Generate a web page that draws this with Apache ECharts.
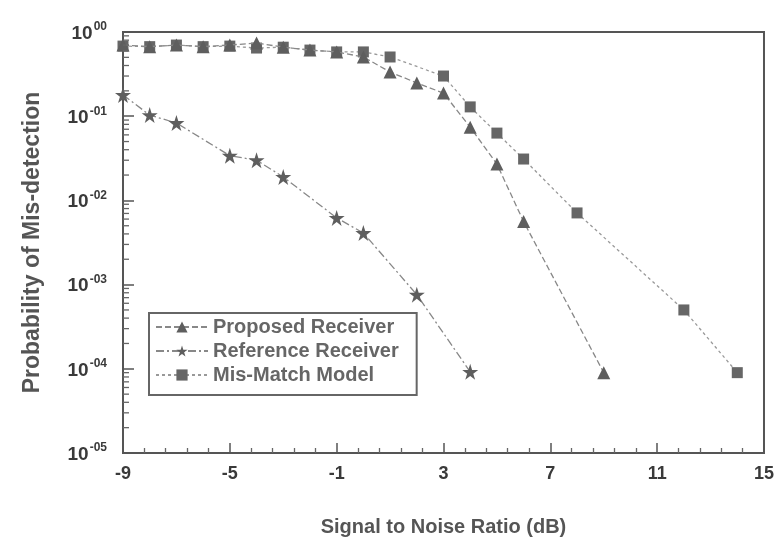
<!DOCTYPE html>
<html>
<head>
<meta charset="utf-8">
<script src="https://cdn.jsdelivr.net/npm/echarts@6/dist/echarts.min.js"></script>
<style>
html,body{margin:0;padding:0;background:#fff;}
#chart{width:777px;height:551px;}
</style>
</head>
<body>
<div id="chart"></div>
<script>
// ---- data ----
var seriesNames = ['Proposed Receiver', 'Reference Receiver', 'Mis-Match Model'];

var proposedX = [-9, -8, -7, -6, -5, -4, -3, -2, -1, 0, 1, 2, 3, 4, 5, 6, 9];
var proposedY = [0.70, 0.67, 0.70, 0.67, 0.70, 0.74, 0.66, 0.61, 0.58, 0.505, 0.335, 0.248, 0.188, 0.074, 0.027, 0.0056, 0.00009];

var referenceX = [-9, -8, -7, -5, -4, -3, -1, 0, 2, 4];
var referenceY = [0.179, 0.103, 0.083, 0.034, 0.030, 0.019, 0.0062, 0.0041, 0.00076, 0.000092];

var mismatchX = [-9, -8, -7, -6, -5, -4, -3, -2, -1, 0, 1, 3, 4, 5, 6, 8, 12, 14];
var mismatchY = [0.68, 0.67, 0.70, 0.67, 0.68, 0.645, 0.66, 0.61, 0.58, 0.58, 0.505, 0.30, 0.129, 0.063, 0.031, 0.0071, 0.00050, 0.00009];

var xTickLabels = ['-9', '-5', '-1', '3', '7', '11', '15'];
var yTickLabels = ['00', '-01', '-02', '-03', '-04', '-05'];
var yDecades = [1, 0.1, 0.01, 0.001, 0.0001, 0.00001];

// ---- build ----
function pairs(xs, ys) { return xs.map(function (x, i) { return [x, ys[i]]; }); }

var minorVals = [];
for (var k = 1; k < yDecades.length; k++) {
  for (var d = 2; d <= 9; d++) minorVals.push([-9, d * yDecades[k]]);
}

var FONT = '"Liberation Sans", Arial, sans-serif';
var starPath = 'path://M50,0 L61.8,36.2 L100,36.2 L69.1,58.8 L80.9,95.1 L50,72.7 L19.1,95.1 L30.9,58.8 L0,36.2 L38.2,36.2 Z';

var chart = echarts.init(document.getElementById('chart'), null, {renderer: 'canvas'});

var option = {
  backgroundColor: '#ffffff',
  animation: false,
  textStyle: {fontFamily: FONT},
  grid: {left: 123, right: 12, top: 32, bottom: 98, show: true, borderColor: '#555', borderWidth: 2, containLabel: false},
  legend: {
    data: seriesNames,
    orient: 'vertical',
    left: 149, top: 313,
    padding: [4, 18, 10, 6],
    itemWidth: 52, itemHeight: 14, itemGap: 4,
    borderColor: '#666', borderWidth: 2,
    backgroundColor: '#fff',
    textStyle: {fontFamily: FONT, fontSize: 20, fontWeight: 'bold', color: '#666', lineHeight: 20}
  },
  xAxis: {
    type: 'value', min: -9, max: 15, interval: 4,
    name: 'Signal to Noise Ratio (dB)', nameLocation: 'middle', nameGap: 64,
    nameTextStyle: {fontFamily: FONT, fontSize: 20, fontWeight: 'bold', color: '#555'},
    axisLine: {show: true, onZero: false, lineStyle: {color: '#555', width: 2}},
    axisTick: {show: true, inside: true, length: 10, lineStyle: {color: '#555', width: 1.5}},
    minorTick: {show: true, splitNumber: 5, length: 5, lineStyle: {color: '#666', width: 1.3}},
    splitLine: {show: false},
    axisLabel: {
      margin: 12, fontFamily: FONT, fontSize: 18, fontWeight: 'bold', color: '#3a3a3a',
      formatter: function (v) { var i = Math.round((v + 9) / 4); return xTickLabels[i]; }
    }
  },
  yAxis: {
    type: 'log', logBase: 10, min: 0.00001, max: 1, interval: 1,
    name: 'Probability of Mis-detection', nameLocation: 'middle', nameGap: 79, nameRotate: 90,
    nameTextStyle: {fontFamily: FONT, fontSize: 23, fontWeight: 'bold', color: '#555'},
    axisLine: {show: true, onZero: false, lineStyle: {color: '#555', width: 2}},
    axisTick: {show: true, inside: true, length: 11, lineStyle: {color: '#555', width: 1.5}},
    splitLine: {show: false},
    axisLabel: {
      margin: 16, fontFamily: FONT, color: '#3a3a3a',
      formatter: function (v) {
        var e = Math.round(-Math.log10(v));
        return '{b|10}{s|' + yTickLabels[e] + '}';
      },
      rich: {
        b: {fontFamily: FONT, fontSize: 19, fontWeight: 'bold', color: '#3a3a3a', verticalAlign: 'bottom', lineHeight: 22},
        s: {fontFamily: FONT, fontSize: 12, fontWeight: 'bold', color: '#3a3a3a', verticalAlign: 'top', lineHeight: 22, padding: [0, 0, 8, 1]}
      }
    }
  },
  series: [
    {
      name: seriesNames[0], type: 'line', data: pairs(proposedX, proposedY),
      symbol: 'triangle', symbolSize: 13,
      itemStyle: {color: '#5e5e5e'},
      lineStyle: {color: '#888', width: 1.3, type: [6, 3]},
      z: 3
    },
    {
      name: seriesNames[1], type: 'line', data: pairs(referenceX, referenceY),
      symbol: starPath, symbolSize: 16,
      itemStyle: {color: '#5e5e5e'},
      lineStyle: {color: '#888', width: 1.3, type: [8, 3, 2, 3]},
      z: 3
    },
    {
      name: seriesNames[2], type: 'line', data: pairs(mismatchX, mismatchY),
      symbol: 'rect', symbolSize: 11,
      itemStyle: {color: '#666'},
      lineStyle: {color: '#999', width: 1.3, type: [3, 3]},
      z: 2
    },
    {
      name: 'minorTicks', type: 'custom', silent: true, clip: false,
      data: minorVals,
      encode: {x: 0, y: 1},
      renderItem: function (params, api) {
        var p = api.coord([api.value(0), api.value(1)]);
        return {type: 'rect', shape: {x: p[0], y: p[1] - 0.65, width: 6, height: 1.3}, style: {fill: '#666'}};
      },
      z: 5
    }
  ]
};
chart.setOption(option);
</script>
</body>
</html>
